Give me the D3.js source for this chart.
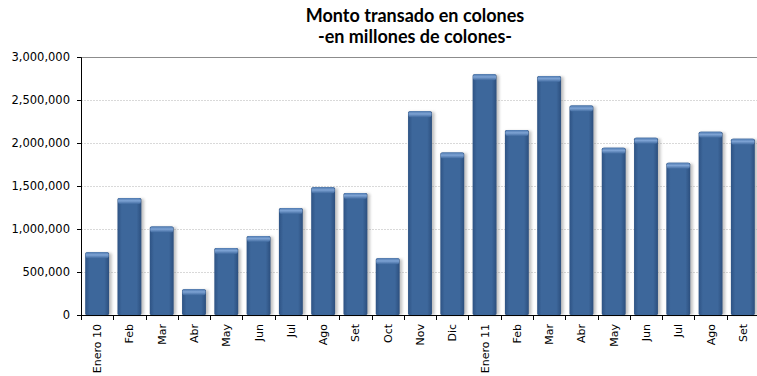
<!DOCTYPE html>
<html>
<head>
<meta charset="utf-8">
<script src="https://cdn.jsdelivr.net/npm/d3@7"></script>
<style>
  body { margin: 0; background: #fff; }
  svg { display: block; }
</style>
</head>
<body>
<script>
const width = 757;
const height = 376;

const meses = ['Enero 10', 'Feb', 'Mar', 'Abr', 'May', 'Jun', 'Jul', 'Ago', 'Set', 'Oct', 'Nov', 'Dic',
    'Enero 11', 'Feb', 'Mar', 'Abr', 'May', 'Jun', 'Jul', 'Ago', 'Set']
const montos = [730000, 1360000, 1030000, 300000, 780000, 920000, 1245000, 1485000, 1420000, 660000,
    2370000, 1890000, 2800000, 2150000, 2780000, 2435000, 1945000, 2060000, 1770000, 2130000, 2050000]
const yTicks = [0, 500000, 1000000, 1500000, 2000000, 2500000, 3000000]
const titulo = ['Monto transado en colones', '-en millones de colones-']

const data = meses.map((m, i) => ({ id: i, mes: m, valor: montos[i] }))

const margin = { top: 57, right: -2, bottom: 61, left: 81 }
const innerW = width - margin.left - margin.right
const innerH = height - margin.top - margin.bottom

const svg = d3.select('body').append('svg')
    .attr('width', width)
    .attr('height', height)

const defs = svg.append('defs')

// degradado horizontal del cuerpo de la barra
const gBody = defs.append('linearGradient').attr('id', 'body').attr('x1', 0).attr('x2', 1).attr('y1', 0).attr('y2', 0)
gBody.append('stop').attr('offset', '0%').attr('stop-color', '#2e5384')
gBody.append('stop').attr('offset', '18%').attr('stop-color', '#3d679b')
gBody.append('stop').attr('offset', '80%').attr('stop-color', '#3d679b')
gBody.append('stop').attr('offset', '100%').attr('stop-color', '#2c4f7e')

// el borde de arriba, más claro
const gCap = defs.append('linearGradient').attr('id', 'cap').attr('x1', 0).attr('x2', 0).attr('y1', 0).attr('y2', 1)
gCap.append('stop').attr('offset', '0%').attr('stop-color', '#4d78ae')
gCap.append('stop').attr('offset', '45%').attr('stop-color', '#7ea3d4')
gCap.append('stop').attr('offset', '100%').attr('stop-color', '#3f699e')

defs.append('filter').attr('id', 'sombra').attr('x', '-30%').attr('y', '-10%').attr('width', '160%').attr('height', '120%')
    .append('feGaussianBlur').attr('stdDeviation', 1.6)

const x = d3.scaleBand()
    .domain(data.map(d => d.id))
    .range([0, innerW])
    .paddingInner(0.26)
    .paddingOuter(0.13)

const y = d3.scaleLinear()
    .domain([0, 3000000])
    .range([innerH, 0])

const g = svg.append('g')
    .attr('transform', `translate(${margin.left}, ${margin.top})`)

// lineas de la cuadricula
g.selectAll('line.grid')
    .data(yTicks.filter(t => t > 0 && t < 3000000))
    .enter()
    .append('line')
    .attr('class', 'grid')
    .attr('x1', 0)
    .attr('x2', innerW)
    .attr('y1', d => y(d) + 0.5)
    .attr('y2', d => y(d) + 0.5)
    .attr('stroke', '#d9d9d9')
    .attr('stroke-dasharray', '2,1')

g.append('line')
    .attr('x1', 0)
    .attr('x2', innerW)
    .attr('y1', 0.5)
    .attr('y2', 0.5)
    .attr('stroke', '#8c8c8c')

const bars = g.selectAll('g.bar')
    .data(data)
    .enter()
    .append('g')
    .attr('class', 'bar')

// sombra
bars.append('rect')
    .attr('x', d => x(d.id) + 1.5)
    .attr('y', d => y(d.valor) + 1)
    .attr('width', x.bandwidth() + 1)
    .attr('height', d => innerH - y(d.valor) - 1)
    .attr('fill', '#8a8a8a')
    .attr('opacity', 0.55)
    .attr('filter', 'url(#sombra)')

bars.append('rect')
    .attr('x', d => x(d.id))
    .attr('y', d => y(d.valor))
    .attr('width', x.bandwidth())
    .attr('height', d => innerH - y(d.valor))
    .attr('rx', 1.5)
    .attr('fill', 'url(#body)')

bars.append('rect')
    .attr('x', d => x(d.id) + 0.5)
    .attr('y', d => y(d.valor))
    .attr('width', x.bandwidth() - 1)
    .attr('height', 6)
    .attr('rx', 2)
    .attr('fill', 'url(#cap)')

// eje y
const yAxis = g.append('g')
    .call(d3.axisLeft(y).tickValues(yTicks).tickSize(4).tickPadding(7).tickFormat(d3.format(',')))
yAxis.select('.domain').attr('stroke', '#000').attr('d', `M-4,0.5H0.5V${innerH + 0.5}`)
yAxis.selectAll('text')
    .attr('font-family', 'DejaVu Sans, Verdana, sans-serif')
    .attr('font-size', 11.5)
    .attr('fill', '#000')

// eje x, con las marcas entre las barras
const xAxis = g.append('g')
    .attr('transform', `translate(0, ${innerH})`)
xAxis.append('line')
    .attr('x1', 0)
    .attr('x2', innerW)
    .attr('y1', 0.5)
    .attr('y2', 0.5)
    .attr('stroke', '#000')
xAxis.selectAll('line.tick')
    .data(d3.range(data.length + 1))
    .enter()
    .append('line')
    .attr('class', 'tick')
    .attr('x1', i => Math.round(i * x.step()) + 0.5)
    .attr('x2', i => Math.round(i * x.step()) + 0.5)
    .attr('y1', 0)
    .attr('y2', 5)
    .attr('stroke', '#000')
xAxis.selectAll('text')
    .data(data)
    .enter()
    .append('text')
    .attr('transform', d => `translate(${x(d.id) + x.bandwidth() / 2 + 4}, 9) rotate(-90)`)
    .attr('text-anchor', 'end')
    .attr('font-family', 'DejaVu Sans, Verdana, sans-serif')
    .attr('font-size', 11)
    .attr('fill', '#000')
    .text(d => d.mes)

// titulo
svg.selectAll('text.titulo')
    .data(titulo)
    .enter()
    .append('text')
    .attr('class', 'titulo')
    .attr('x', 415)
    .attr('y', (d, i) => 22 + i * 21)
    .attr('text-anchor', 'middle')
    .attr('font-family', 'Lato, Open Sans, sans-serif')
    .attr('font-weight', 'bold')
    .attr('font-size', 18)
    .attr('fill', '#000')
    .text(d => d)
</script>
</body>
</html>
